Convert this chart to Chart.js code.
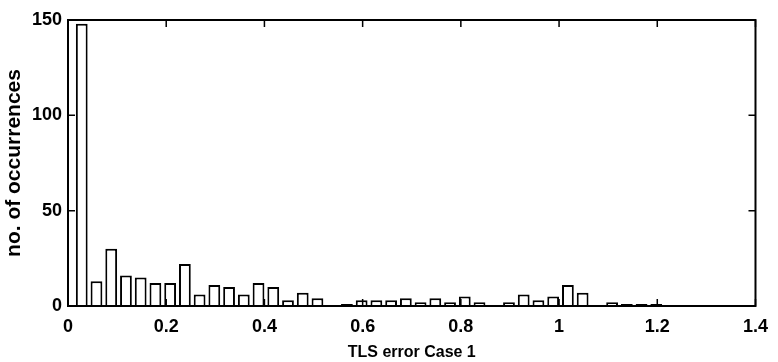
<!DOCTYPE html>
<html>
<head>
<meta charset="utf-8">
<script src="https://cdn.jsdelivr.net/npm/chart.js@4.4.1/dist/chart.umd.min.js"></script>
<style>
  html, body { margin: 0; padding: 0; background: #fff; }
  #wrap { width: 778px; height: 362px; position: relative; }
</style>
</head>
<body>
<div id="wrap"><canvas id="c" width="778" height="362"></canvas></div>
<script>
// Histogram bin centres (TLS error) and counts
const binCenters = [0.028, 0.058, 0.088, 0.118, 0.148, 0.178, 0.208, 0.238, 0.268, 0.298,
                    0.328, 0.358, 0.388, 0.418, 0.448, 0.478, 0.508, 0.538, 0.568, 0.598,
                    0.628, 0.658, 0.688, 0.718, 0.748, 0.778, 0.808, 0.838, 0.868, 0.898,
                    0.928, 0.958, 0.988, 1.018, 1.048, 1.078, 1.108, 1.138, 1.168, 1.198];
const counts = [148, 13, 30, 16, 15, 12, 12, 22, 6, 11,
                10, 6, 12, 10, 3, 7, 4, 0, 1, 3,
                3, 3, 4, 2, 4, 2, 5, 2, 0, 2,
                6, 3, 5, 11, 7, 0, 2, 1, 1, 1];
const xTicks = [0, 0.2, 0.4, 0.6, 0.8, 1, 1.2, 1.4];
const yTicks = [0, 50, 100, 150];
const xTitle = 'TLS error Case 1';
const yTitle = 'no. of occurrences';

const FONT = "'Liberation Sans', Arial, sans-serif";

const boxPlugin = {
  id: 'box',
  afterDatasetsDraw(chart) {
    const ctx = chart.ctx, a = chart.chartArea;
    const xs = chart.scales.x, ys = chart.scales.y;
    ctx.save();
    ctx.strokeStyle = '#000';
    ctx.lineWidth = 2;
    ctx.strokeRect(a.left, a.top, a.right - a.left, a.bottom - a.top);
    const tl = 7;
    ctx.lineWidth = 1.5;
    ctx.beginPath();
    xTicks.forEach(v => {
      const px = xs.getPixelForValue(v);
      ctx.moveTo(px, a.bottom); ctx.lineTo(px, a.bottom - tl);
      ctx.moveTo(px, a.top); ctx.lineTo(px, a.top + tl);
    });
    yTicks.forEach(v => {
      const py = ys.getPixelForValue(v);
      ctx.moveTo(a.left, py); ctx.lineTo(a.left + tl, py);
      ctx.moveTo(a.right, py); ctx.lineTo(a.right - tl, py);
    });
    ctx.stroke();
    ctx.restore();
  }
};

new Chart(document.getElementById('c'), {
  type: 'bar',
  data: {
    datasets: [{
      data: binCenters.map((x, i) => ({ x: x, y: counts[i] })),
      backgroundColor: '#fff',
      borderColor: '#000',
      borderWidth: 2,
      borderSkipped: 'start',
      categoryPercentage: 1.0,
      barPercentage: 0.8
    }]
  },
  options: {
    responsive: false,
    animation: false,
    devicePixelRatio: 1,
    layout: { padding: { top: 20, right: 18, left: 0, bottom: 0 } },
    plugins: { legend: { display: false }, tooltip: { enabled: false } },
    scales: {
      x: {
        type: 'linear',
        offset: false,
        min: 0, max: 1.4,
        afterBuildTicks: s => { s.ticks = xTicks.map(v => ({ value: v })); },
        afterFit: s => { s.height = 56; },
        grid: { display: false, drawTicks: false },
        border: { display: false },
        ticks: {
          color: '#000', padding: 10,
          font: { family: FONT, size: 18, weight: 'bold' },
          callback: v => String(v)
        },
        title: {
          display: true, text: xTitle, color: '#000',
          font: { family: FONT, size: 16, weight: 'bold' },
          padding: { top: 0, bottom: 0 }
        }
      },
      y: {
        min: 0, max: 150,
        afterBuildTicks: s => { s.ticks = yTicks.map(v => ({ value: v })); },
        afterFit: s => { s.width = 68; },
        grid: { display: false, drawTicks: false },
        border: { display: false },
        ticks: {
          color: '#000', padding: 6,
          font: { family: FONT, size: 18, weight: 'bold' }
        },
        title: {
          display: true, text: yTitle, color: '#000',
          font: { family: FONT, size: 21, weight: 'bold' },
          padding: { top: 2, bottom: 0 }
        }
      }
    }
  },
  plugins: [boxPlugin]
});
</script>
</body>
</html>
